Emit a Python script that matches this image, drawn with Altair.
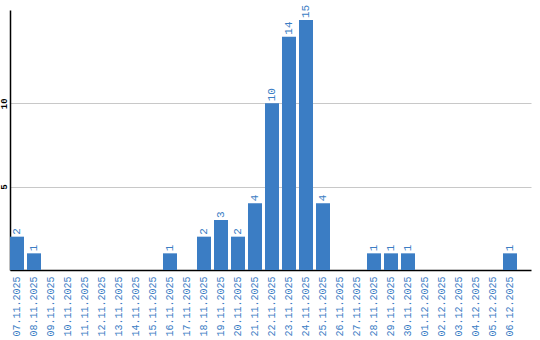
import altair as alt
import pandas as pd

dates = ["07.11.2025", "08.11.2025", "09.11.2025", "10.11.2025", "11.11.2025",
         "12.11.2025", "13.11.2025", "14.11.2025", "15.11.2025", "16.11.2025",
         "17.11.2025", "18.11.2025", "19.11.2025", "20.11.2025", "21.11.2025",
         "22.11.2025", "23.11.2025", "24.11.2025", "25.11.2025", "26.11.2025",
         "27.11.2025", "28.11.2025", "29.11.2025", "30.11.2025", "01.12.2025",
         "02.12.2025", "03.12.2025", "04.12.2025", "05.12.2025", "06.12.2025"]
counts = [2, 1, 0, 0, 0, 0, 0, 0, 0, 1,
          0, 2, 3, 2, 4, 10, 14, 15, 4, 0,
          0, 1, 1, 1, 0, 0, 0, 0, 0, 1]

df = pd.DataFrame({"date": dates, "count": counts})
df["label"] = df["count"].apply(lambda v: str(v) if v > 0 else "")

BLUE = "#3b7dc4"
FONT = "Liberation Mono"

xenc = alt.X("date:N", sort=dates,
             scale=alt.Scale(paddingInner=3/17, paddingOuter=0.4118, align=0),
             axis=alt.Axis(title=None, labelAngle=-90, labelAlign="right",
                           labelBaseline="middle", labelFont=FONT, labelFontSize=10,
                           labelColor=BLUE, ticks=False, labelPadding=6,
                           domainColor="black", domainWidth=1.5, labelOverlap=False))
yscale = alt.Scale(domain=[0, 15.6], nice=False, zero=True)

bars = alt.Chart(df).mark_bar(color=BLUE).encode(
    x=xenc,
    y=alt.Y("count:Q", scale=yscale,
            axis=alt.Axis(title=None, values=[5, 10], labelAngle=-90,
                          labelAlign="center", labelBaseline="bottom",
                          labelFont=FONT, labelFontSize=9, labelColor="black",
                          labelFontWeight="bold",
                          ticks=False, labelPadding=2, grid=True,
                          gridColor="#c8c8c8", gridWidth=1,
                          domainColor="black", domainWidth=1.5)),
)

text = alt.Chart(df).mark_text(angle=270, align="left", baseline="middle",
                               dx=2, font=FONT, fontSize=11, color=BLUE).encode(
    x=alt.X("date:N", sort=dates),
    y=alt.Y("count:Q", scale=yscale),
    text="label:N",
)

chart = (bars + text).properties(
    width=521, height=260,
    autosize=alt.AutoSizeParams(type="none"),
    padding={"left": 10, "top": 10, "right": 9, "bottom": 70},
).configure_view(stroke=None).configure_axisX(grid=False)

chart.save("out.html", embed_options={"renderer": "svg", "actions": False})
